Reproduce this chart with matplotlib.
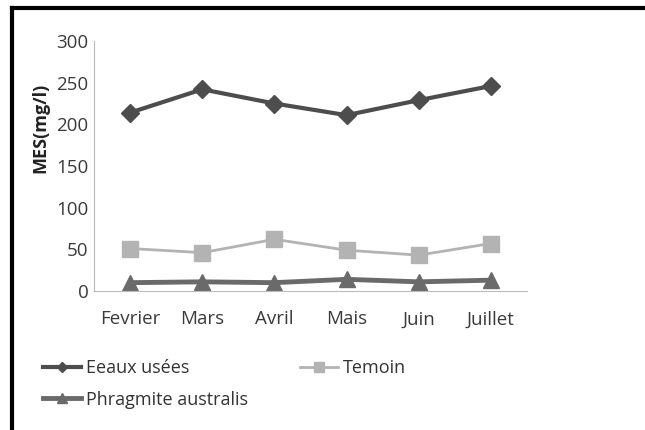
import matplotlib.pyplot as plt
from matplotlib.lines import Line2D

mois = ["Fevrier", "Mars", "Avril", "Mais", "Juin", "Juillet"]
eaux_usees = [214, 242, 225, 211, 229, 246]
temoin = [51, 46, 62, 49, 43, 57]
phragmite = [10, 11, 10, 14, 11, 13]

plt.rcParams['font.family'] = ['Open Sans', 'DejaVu Sans']

fig = plt.figure(figsize=(6.45, 4.3), dpi=100)
ax = fig.add_axes([94/645, 1 - 291/430, (527-94)/645, (291-41)/430])

x = range(len(mois))
l1, = ax.plot(x, eaux_usees, color="#4d4d4d", lw=3, marker="D", ms=9, label="Eeaux usées")
l2, = ax.plot(x, temoin, color="#b3b3b3", lw=2, marker="s", ms=11, label="Temoin")
l3, = ax.plot(x, phragmite, color="#6a6a6a", lw=3.5, marker="^", ms=12, label="Phragmite australis")

ax.set_xlim(-0.5, 5.5)
ax.set_ylim(0, 300)
ax.set_yticks(range(0, 301, 50))
ax.set_xticks(list(x))
ax.set_xticklabels(mois)
ax.tick_params(length=0, labelsize=13.5, colors="#3a3a3a")
ax.tick_params(axis="x", pad=14)
ax.tick_params(axis="y", pad=4)
for s in ["top", "right"]:
    ax.spines[s].set_visible(False)
for s in ["left", "bottom"]:
    ax.spines[s].set_color("#bbbbbb")

fig.text(40/645, 1 - 128/430, "MES(mg/l)", rotation=90, fontsize=13, fontweight="bold",
         ha="center", va="center", color="#222222")

# ordre pour remplir les lignes: Eaux, Temoin / Phragmite
leg = fig.legend([l1, l3, l2], [l1.get_label(), l3.get_label(), l2.get_label()],
                 loc="upper left", bbox_to_anchor=(27/645, 1 - 343/430), ncol=2, frameon=False,
                 fontsize=13, handlelength=2.1, handletextpad=0.25, columnspacing=2.9,
                 labelspacing=0.75, markerscale=0.6)
for t in leg.get_texts():
    t.set_color("#333333")

fig.add_artist(Line2D([12/645, 12/645], [0, 1 - 8/430], transform=fig.transFigure, color="black", lw=3))
fig.add_artist(Line2D([12/645, 1.05], [1 - 8/430, 1 - 8/430], transform=fig.transFigure, color="black", lw=3))

fig.savefig("out.png", dpi=100)
